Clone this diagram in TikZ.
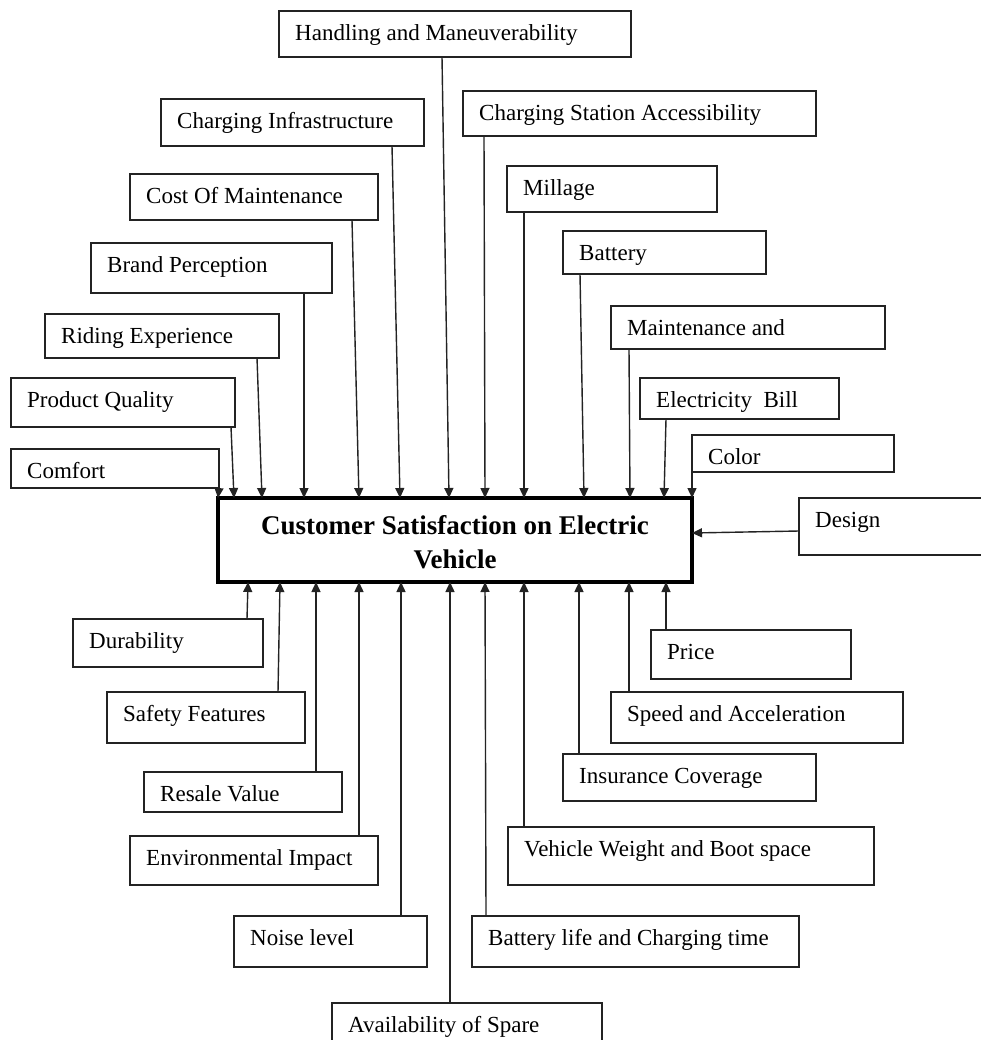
\documentclass[tikz,border=0pt]{standalone}
\usepackage{fontspec}
\setmainfont{Liberation Serif}
\usetikzlibrary{arrows.meta,calc}
\definecolor{edge}{RGB}{35,35,35}
\tikzset{
 fbox/.style={draw=edge, line width=1.4pt, inner sep=0pt, outer sep=0pt, anchor=north west},
 ftext/.style={anchor=base west, inner sep=0pt, font=\fontsize{23}{28}\selectfont},
 mainbox/.style={draw=black, line width=3.5pt, inner sep=0pt, outer sep=0pt, anchor=north west},
 arr/.style={draw=edge, line width=1.4pt, -{Triangle[length=10pt,width=9pt]}},
}
\newcommand\factorbox[6]{%
 \node[fbox, minimum width=#4pt, minimum height=#5pt] (#1) at (#2,#3) {};
 \node[ftext] (#1-t) at ([xshift=16pt,yshift=-29.5pt]#1.north west) {#6};
}
\begin{document}
\begin{tikzpicture}[x=1pt,y=-1pt]
\useasboundingbox (0,0) rectangle (981,1040);
% top factors
\factorbox{handling}{279}{11}{352}{46}{Handling and Maneuverability}
\factorbox{chinfra}{161}{99}{263}{47}{Charging Infrastructure}
\factorbox{cost}{130}{174}{248}{46}{Cost Of Maintenance}
\factorbox{csa}{463}{91}{353}{45}{Charging Station Accessibility}
\factorbox{millage}{507}{166}{210}{46}{Millage}
\factorbox{battery}{563}{231}{203}{43}{Battery}
\factorbox{maint}{611}{306}{274}{43}{Maintenance and}
\factorbox{elec}{640}{378}{199}{41}{Electricity\ \ Bill}
\factorbox{color}{692}{435}{202}{37}{Color}
\factorbox{design}{799}{498}{200}{57}{Design}
\factorbox{brand}{91}{243}{241}{50}{Brand Perception}
\factorbox{riding}{45}{314}{234}{44}{Riding Experience}
\factorbox{product}{11}{378}{224}{49}{Product Quality}
\factorbox{comfort}{11}{449}{208}{39}{Comfort}
% bottom factors
\factorbox{durability}{73}{619}{190}{48}{Durability}
\factorbox{safety}{107}{692}{198}{51}{Safety Features}
\factorbox{resale}{144}{772}{198}{40}{Resale Value}
\factorbox{env}{130}{836}{248}{49}{Environmental Impact}
\factorbox{noise}{234}{916}{193}{51}{Noise level}
\factorbox{avail}{332}{1003}{270}{45}{Availability of Spare}
\factorbox{batlife}{472}{916}{327}{51}{Battery life and Charging time}
\factorbox{vehicle}{508}{827}{366}{58}{Vehicle Weight and Boot space}
\factorbox{insurance}{563}{754}{253}{47}{Insurance Coverage}
\factorbox{speed}{611}{692}{292}{51}{Speed and Acceleration}
\factorbox{price}{651}{630}{200}{49}{Price}
% main box
\node[mainbox, minimum width=474pt, minimum height=84pt] (main) at (218,498) {};
\node[inner sep=0pt, align=center, font=\bfseries\fontsize{27}{34}\selectfont] (title) at (455,541.8) {Customer Satisfaction on Electric\\Vehicle};
% arrows from above
\draw[arr] ([xshift=163pt]handling.south west) -- ([xshift=231pt]main.north west);
\draw[arr] ([xshift=231pt]chinfra.south west) -- ([xshift=182pt]main.north west);
\draw[arr] ([xshift=222pt]cost.south west) -- ([xshift=141pt]main.north west);
\draw[arr] ([xshift=21pt]csa.south west) -- ([xshift=267pt]main.north west);
\draw[arr] ([xshift=17pt]millage.south west) -- ([xshift=306pt]main.north west);
\draw[arr] ([xshift=17pt]battery.south west) -- ([xshift=366pt]main.north west);
\draw[arr] ([xshift=18pt]maint.south west) -- ([xshift=412pt]main.north west);
\draw[arr] ([xshift=26pt]elec.south west) -- ([xshift=446pt]main.north west);
\draw[arr] (color.south west) -- (main.north east);
\draw[arr] ([xshift=213pt]brand.south west) -- ([xshift=86pt]main.north west);
\draw[arr] ([xshift=212pt]riding.south west) -- ([xshift=44pt]main.north west);
\draw[arr] ([xshift=220pt]product.south west) -- ([xshift=16pt]main.north west);
\draw[arr] (comfort.south east) -- (main.north west);
\draw[arr] ([yshift=-4.5pt]design.west) -- ([yshift=7pt]main.east);
% arrows from below
\draw[arr] ([xshift=174pt]durability.north west) -- ([xshift=30pt]main.south west);
\draw[arr] ([xshift=171pt]safety.north west) -- ([xshift=62pt]main.south west);
\draw[arr] ([xshift=172pt]resale.north west) -- ([xshift=98pt]main.south west);
\draw[arr] ([xshift=229pt]env.north west) -- ([xshift=141pt]main.south west);
\draw[arr] ([xshift=167pt]noise.north west) -- ([xshift=183pt]main.south west);
\draw[arr] ([xshift=118pt]avail.north west) -- ([xshift=232pt]main.south west);
\draw[arr] ([xshift=14pt]batlife.north west) -- ([xshift=267pt]main.south west);
\draw[arr] ([xshift=16pt]vehicle.north west) -- ([xshift=306pt]main.south west);
\draw[arr] ([xshift=16pt]insurance.north west) -- ([xshift=361pt]main.south west);
\draw[arr] ([xshift=18pt]speed.north west) -- ([xshift=411pt]main.south west);
\draw[arr] ([xshift=15pt]price.north west) -- ([xshift=448pt]main.south west);
\end{tikzpicture}
\end{document}
